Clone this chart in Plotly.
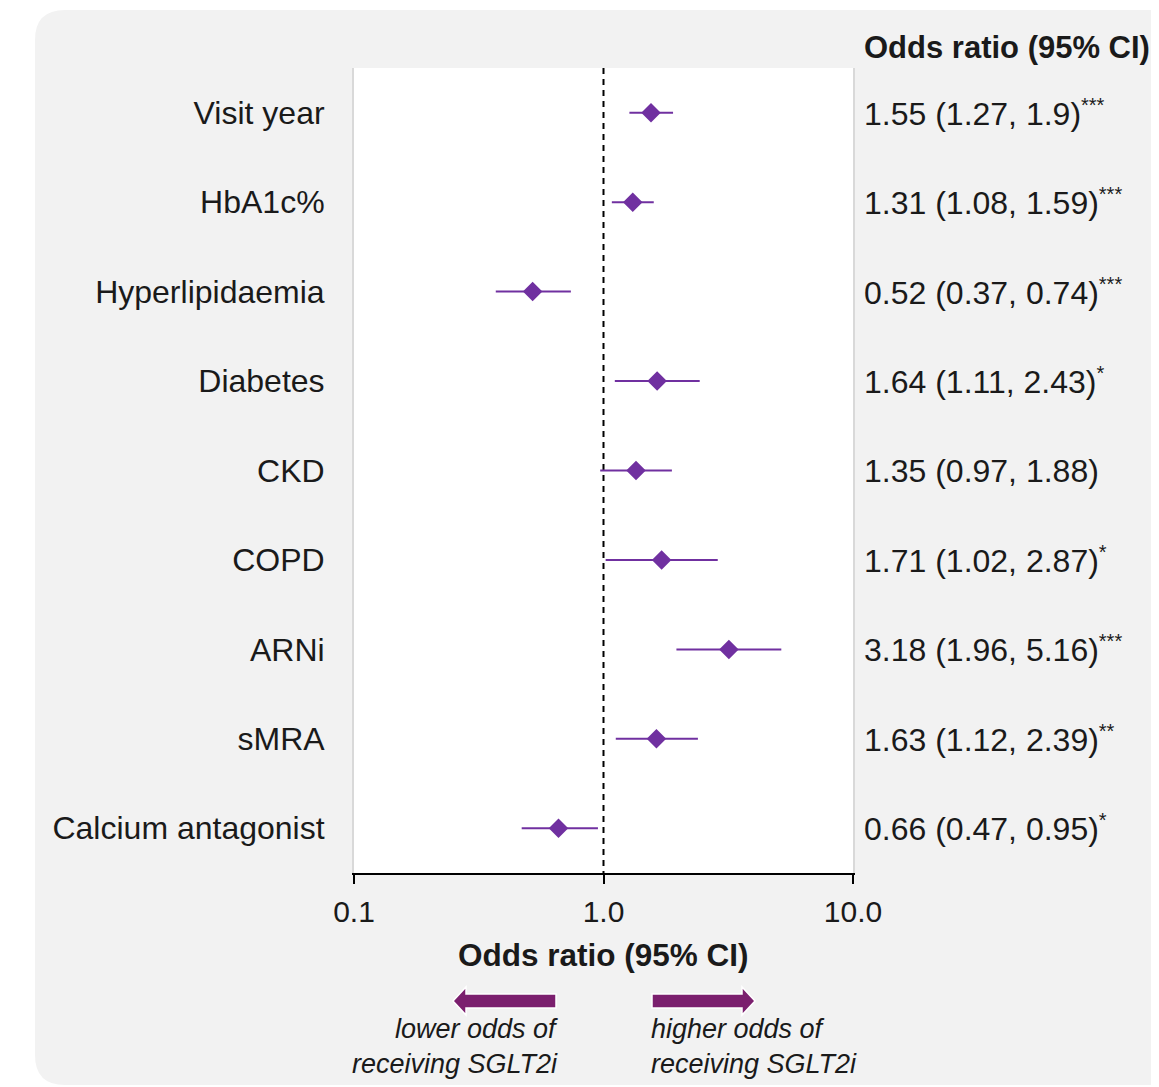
import plotly.graph_objects as go

# ---- data ----
variables = ["Visit year", "HbA1c%", "Hyperlipidaemia", "Diabetes", "CKD",
             "COPD", "ARNi", "sMRA", "Calcium antagonist"]
odds_ratio = [1.55, 1.31, 0.52, 1.64, 1.35, 1.71, 3.18, 1.63, 0.66]
ci_lower = [1.27, 1.08, 0.37, 1.11, 0.97, 1.02, 1.96, 1.12, 0.47]
ci_upper = [1.90, 1.59, 0.74, 2.43, 1.88, 2.87, 5.16, 2.39, 0.95]
ci_text = ["1.55 (1.27, 1.9)", "1.31 (1.08, 1.59)", "0.52 (0.37, 0.74)",
           "1.64 (1.11, 2.43)", "1.35 (0.97, 1.88)", "1.71 (1.02, 2.87)",
           "3.18 (1.96, 5.16)", "1.63 (1.12, 2.39)", "0.66 (0.47, 0.95)"]
significance = ["***", "***", "***", "*", "", "*", "***", "**", "*"]
x_ticks = [0.1, 1, 10]
x_tick_labels = ["0.1", "1.0", "10.0"]

OFF = 8                      # page body margin
SW, SH = 1159, 1087          # screen size
W, H = SW - OFF, SH - OFF    # figure size
L, R, T, B = 354, 853, 68, 873   # plot area in screen pixels
FONT = "Liberation Sans, Arial, sans-serif"
TXT = "#1a1a1a"
PURPLE = "#7030a0"
ARROW = "#7b1f6e"


def px(x):
    return (x - L) / (R - L)


def py(y):
    return (B - y) / (B - T)


rows = list(range(len(variables)))

fig = go.Figure()

# reference line at OR = 1
fig.add_trace(go.Scatter(x=[1, 1], y=[-0.5, len(variables) - 0.5], mode="lines",
                         line=dict(color="black", width=2, dash="6px,5px"),
                         hoverinfo="skip", showlegend=False))

fig.add_trace(go.Scatter(
    x=odds_ratio, y=rows, mode="markers",
    marker=dict(symbol="diamond", size=15, color=PURPLE),
    error_x=dict(type="data", symmetric=False,
                 array=[u - o for u, o in zip(ci_upper, odds_ratio)],
                 arrayminus=[o - l for o, l in zip(odds_ratio, ci_lower)],
                 color=PURPLE, thickness=2, width=0),
    showlegend=False))

annotations = []
for i, (t, s) in enumerate(zip(ci_text, significance)):
    label = t + (f"<sup><span style='font-size:20px'>{s}</span></sup>" if s else "")
    annotations.append(dict(x=px(862), xref="paper", y=i, yref="y", text=label,
                            showarrow=False, xanchor="left", yanchor="middle",
                            font=dict(family=FONT, size=32, color=TXT)))

annotations.append(dict(x=px(862), xref="paper", y=py(48), yref="paper",
                        text="<b>Odds ratio (95% CI)</b>", showarrow=False,
                        xanchor="left", yanchor="middle",
                        font=dict(family=FONT, size=31, color=TXT)))
annotations.append(dict(x=0.5, xref="paper", y=py(955), yref="paper",
                        text="<b>Odds ratio (95% CI)</b>", showarrow=False,
                        xanchor="center", yanchor="middle",
                        font=dict(family=FONT, size=31.5, color=TXT)))
for txt, y in [("lower odds of", 1029), ("receiving SGLT2i", 1064)]:
    annotations.append(dict(x=px(560), xref="paper", y=py(y), yref="paper",
                            text=f"<i>{txt}</i>", showarrow=False,
                            xanchor="right", yanchor="middle",
                            font=dict(family=FONT, size=27, color=TXT)))
for txt, y in [("higher odds of", 1029), ("receiving SGLT2i", 1064)]:
    annotations.append(dict(x=px(649), xref="paper", y=py(y), yref="paper",
                            text=f"<i>{txt}</i>", showarrow=False,
                            xanchor="left", yanchor="middle",
                            font=dict(family=FONT, size=27, color=TXT)))

# background panel with rounded left corners
x0, x1 = px(35), px(1180)
yt, yb = py(10), py(1085)
rx, ry = 30 / (R - L), 30 / (B - T)
panel = (f"M {x0+rx},{yt} L {x1},{yt} L {x1},{yb} L {x0+rx},{yb} "
         f"Q {x0},{yb} {x0},{yb+ry} L {x0},{yt-ry} Q {x0},{yt} {x0+rx},{yt} Z")
shapes = [dict(type="path", path=panel, xref="paper", yref="paper",
               fillcolor="#f2f2f2", line=dict(width=0), layer="below"),
          dict(type="rect", x0=0, x1=1, y0=0, y1=1, xref="paper", yref="paper",
               fillcolor="white", line=dict(width=0), layer="below")]


def arrow(tail, tip, yc):
    d = 1 if tip > tail else -1
    base = tip - d * 13
    pts = [(tail, yc - 7), (base, yc - 7), (base, yc - 14), (tip, yc),
           (base, yc + 14), (base, yc + 7), (tail, yc + 7)]
    path = "M " + " L ".join(f"{px(a)},{py(b)}" for a, b in pts) + " Z"
    return dict(type="path", path=path, xref="paper", yref="paper",
                fillcolor=ARROW, line=dict(color="white", width=1.5))


shapes.append(arrow(556, 453, 1001))
shapes.append(arrow(652, 755, 1001))

fig.update_layout(
    width=W, height=H,
    margin=dict(l=L - OFF, r=SW - R, t=T - OFF, b=SH - B, pad=0),
    paper_bgcolor="white", plot_bgcolor="white",
    font=dict(family=FONT, color=TXT),
    showlegend=False,
    annotations=annotations, shapes=shapes,
    xaxis=dict(type="log", range=[-1, 1], tickvals=x_ticks, ticktext=x_tick_labels,
               showgrid=False, zeroline=False, showline=True, linecolor="black",
               linewidth=2, ticks="outside", ticklen=9, tickwidth=2, tickcolor="black",
               ticklabelstandoff=2,
               tickfont=dict(family=FONT, size=30, color=TXT)),
    yaxis=dict(range=[len(variables) - 0.5, -0.5], tickvals=rows, ticktext=variables,
               showgrid=False, zeroline=False, showline=True, mirror=True,
               linecolor="#d9d9d9", linewidth=2, ticks="outside", ticklen=21,
               tickcolor="rgba(0,0,0,0)",
               tickfont=dict(family=FONT, size=32, color=TXT)),
)

fig.write_html("out.html")
